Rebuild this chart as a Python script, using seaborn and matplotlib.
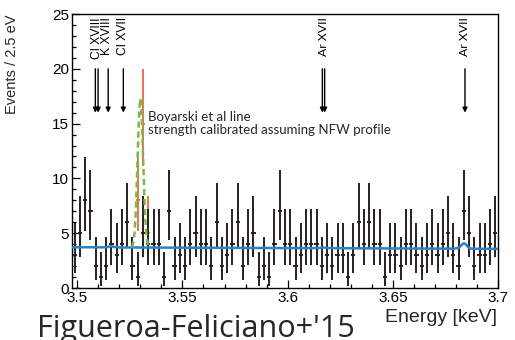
import math
import numpy as np
import pandas as pd
import matplotlib
matplotlib.use("Agg")
import matplotlib.pyplot as plt
import seaborn as sns

# Histogram binning (2.5 eV bins)
BIN_WIDTH = 0.0025
E_LOW = 3.4975

# Observed counts per bin
counts = [3, 5, 8, 7, 2, 1, 2, 4, 3, 4,
          6, 2, 1, 5, 4, 4, 4, 1, 7, 2,
          3, 2, 4, 5, 4, 4, 2, 6, 2, 3,
          4, 6, 2, 4, 5, 1, 2, 1, 4, 7,
          4, 4, 2, 3, 4, 4, 4, 2, 3, 2,
          3, 3, 1, 3, 6, 4, 6, 4, 4, 1,
          3, 3, 2, 4, 4, 3, 2, 3, 4, 3,
          4, 5, 3, 2, 7, 5, 2, 3, 3, 4,
          5]

# Bins with the injected line (counts after injection)
signal_bins = [12, 13, 14]
signal_counts = [8, 15, 5]

# Background model curve
bkg_energy = [3.4975, 3.512, 3.5145, 3.516, 3.5175, 3.520, 3.612, 3.6155,
              3.617, 3.6185, 3.622, 3.679, 3.681, 3.682, 3.683, 3.6838,
              3.6846, 3.6856, 3.6866, 3.688, 3.700]
bkg_level = [3.72, 3.71, 3.74, 3.82, 3.74, 3.70, 3.635, 3.66,
             3.70, 3.66, 3.63, 3.59, 3.65, 3.78, 3.98, 4.08,
             4.00, 3.78, 3.62, 3.58, 3.57]

# Background plus line at the Boyarski et al. strength
line_energy = [3.5262, 3.52715, 3.52762, 3.5281, 3.52857, 3.52905, 3.52952,
               3.5300, 3.53048, 3.53095, 3.53143, 3.5319, 3.53238, 3.53285,
               3.5338]
line_level = [3.7, 4.9, 6.2, 8.4, 11.2, 14.1, 16.4,
              17.3, 16.4, 14.1, 11.2, 8.4, 6.2, 4.9,
              3.7]

# Known emission lines
arrow_labels = ["Cl XVIII", "K XVIII", "Cl XVII", "Ar XVII", "Ar XVII"]
arrow_label_x = [3.5092, 3.5143, 3.5219, 3.6170, 3.6843]
arrow_energies = [[3.5086, 3.5099], [3.5147], [3.5219], [3.6165, 3.6176], [3.6843]]
arrow_label_fonts = ["Liberation Sans", "Liberation Sans", "Liberation Sans", "Lato", "Lato"]


def poisson_cdf(n, mu):
    if n < 0:
        return 0.0
    k = np.arange(n + 1)
    logp = -mu + k * math.log(mu) - np.array([math.lgamma(i + 1) for i in k])
    return float(np.exp(logp).sum())


def solve_mu(f, target, lo=1e-9, hi=200.0):
    # f is decreasing in mu
    for _ in range(100):
        mid = 0.5 * (lo + hi)
        if f(mid) > target:
            lo = mid
        else:
            hi = mid
    return 0.5 * (lo + hi)


def garwood(n, cl=0.6827):
    a = (1 - cl) / 2
    low = 0.0 if n == 0 else solve_mu(lambda m: poisson_cdf(n - 1, m), 1 - a)
    high = solve_mu(lambda m: poisson_cdf(n, m), a)
    return n - low, high - n


def bin_center(k):
    return E_LOW + (k + 0.5) * BIN_WIDTH


sns.set_theme(style="ticks")
plt.rcParams["font.family"] = ["Liberation Sans", "DejaVu Sans"]

fig = plt.figure(figsize=(5.15, 3.4), dpi=100)
ax = fig.add_axes([72 / 515, 1 - 288 / 340, 426 / 515, 274 / 340])

data_color = "#272020"
sig_color = "#e8683f"
bkg_color = "#2a82c8"
line_color = "#7cb74a"

# injected-line bins (drawn beneath the data)
sx = [bin_center(k) for k in signal_bins]
serr = np.array([garwood(n) for n in signal_counts]).T
ax.errorbar(sx, signal_counts, yerr=serr, xerr=0.001, fmt="none",
            ecolor=sig_color, elinewidth=1.3, capsize=0, zorder=2)

# data
df = pd.DataFrame({"energy": [bin_center(k) for k in range(len(counts))],
                   "counts": counts})
derr = np.array([garwood(n) for n in counts]).T
ax.errorbar(df["energy"], df["counts"], yerr=derr, xerr=0.001,
            fmt="none", ecolor=data_color, elinewidth=1.4, capsize=0, zorder=3)

# models
bkg_df = pd.DataFrame({"energy": bkg_energy, "level": bkg_level})
sns.lineplot(data=bkg_df, x="energy", y="level", ax=ax, color=bkg_color,
             linewidth=1.8, zorder=4, sort=False)
line_df = pd.DataFrame({"energy": line_energy, "level": line_level})
sns.lineplot(data=line_df, x="energy", y="level", ax=ax, color=line_color,
             linewidth=1.8, zorder=5, sort=False, dashes=False,
             linestyle=(0, (2.5, 1.5)))

# line markers
for label, lx, energies, fam in zip(arrow_labels, arrow_label_x, arrow_energies,
                                    arrow_label_fonts):
    for e in energies:
        ax.annotate("", xy=(e, 16.0), xytext=(e, 20.0),
                    arrowprops=dict(arrowstyle="-|>", color="black", lw=1.0,
                                    mutation_scale=7, shrinkA=0, shrinkB=0))
    ax.text(lx, 24.7, label, rotation=90, ha="center", va="top",
            fontsize=8.8, family=fam, color="black")

ax.text(3.5334, 15.0, "Boyarski et al line\nstrength calibrated assuming NFW profile",
        ha="left", va="center", fontsize=9.5, family="Lato", linespacing=1.1)

ax.set_xlim(E_LOW, 3.7)
ax.set_ylim(0, 25)
ax.set_xticks([3.5, 3.55, 3.6, 3.65, 3.7])
ax.set_xticklabels(["3.5", "3.55", "3.6", "3.65", "3.7"])
ax.set_xticks(np.arange(3.50, 3.7001, 0.01), minor=True)
ax.set_yticks([0, 5, 10, 15, 20, 25])
ax.set_yticks(np.arange(0, 25.01, 1), minor=True)
ax.tick_params(axis="both", which="both", direction="in", top=False, right=False,
               labelsize=11, colors="black", width=0.9)
ax.tick_params(axis="both", which="major", length=6, pad=2)
ax.tick_params(axis="both", which="minor", length=3)
for s in ax.spines.values():
    s.set_visible(True)
    s.set_linewidth(1.0)
    s.set_color("black")
ax.set_xlabel("")
ax.set_ylabel("")

fig.text(12 / 515, 1 - 14 / 340, "Events / 2.5 eV", rotation=90, ha="center",
         va="top", fontsize=10.5)
fig.text(497 / 515, 1 - 318 / 340, "Energy [keV]", ha="right", va="center",
         fontsize=14)
fig.text(37 / 515, 1 - 336.5 / 340, "Figueroa-Feliciano+'15", ha="left",
         va="baseline", fontsize=22, family="Open Sans")

fig.savefig("out.png", dpi=100)
